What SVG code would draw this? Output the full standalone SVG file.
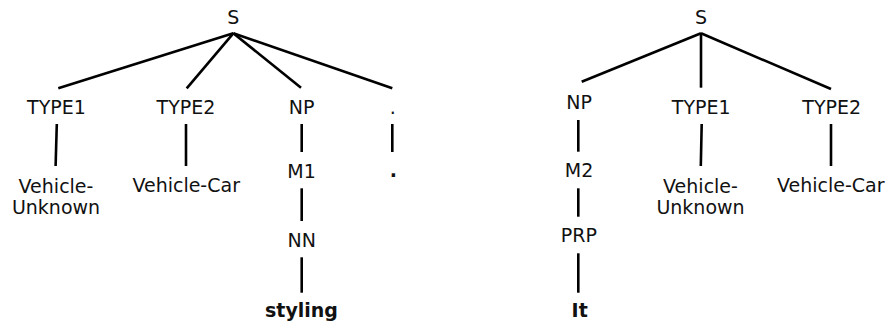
<svg xmlns="http://www.w3.org/2000/svg" width="891" height="324" viewBox="0 0 891 324">
  <style>
    text { font-family: "DejaVu Sans", Verdana, sans-serif; font-size: 19px; fill: #111; text-anchor: middle; }
    text.word { font-weight: bold; }
    #connectors line { stroke: #000; stroke-width: 2.6; stroke-linecap: butt; }
  </style>
  <rect width="891" height="324" fill="#fff"/>

  <g id="connectors">
    <!-- left tree -->
    <line x1="233.3" y1="33.3" x2="58.3" y2="88.3"/>
    <line x1="233.3" y1="33.3" x2="186.7" y2="88.3"/>
    <line x1="233.3" y1="33.3" x2="301" y2="87.7"/>
    <line x1="233.3" y1="33.3" x2="392.3" y2="88.3"/>
    <line x1="56.8" y1="124" x2="55.6" y2="166"/>
    <line x1="186" y1="124" x2="186" y2="166"/>
    <line x1="301.7" y1="124" x2="301.7" y2="152"/>
    <line x1="392.3" y1="124" x2="392.3" y2="152"/>
    <line x1="301.7" y1="188.3" x2="301.7" y2="221"/>
    <line x1="301.7" y1="257.3" x2="301.7" y2="292.7"/>
    <!-- right tree -->
    <line x1="701" y1="33.3" x2="581.7" y2="81.7"/>
    <line x1="701" y1="33.3" x2="701" y2="87.7"/>
    <line x1="701" y1="33.3" x2="831" y2="89"/>
    <line x1="578.3" y1="120" x2="578.3" y2="151.7"/>
    <line x1="701.7" y1="124" x2="700.8" y2="166"/>
    <line x1="831" y1="124" x2="831" y2="166"/>
    <line x1="578.3" y1="188.3" x2="578.3" y2="216.7"/>
    <line x1="578.3" y1="253.3" x2="578.3" y2="292.7"/>
  </g>

  <!-- left tree nodes -->
  <g id="s-left"><text x="233.3" y="23.5">S</text></g>
  <g id="type1-left"><text x="56.5" y="114">TYPE1</text></g>
  <g id="type2-left"><text x="186" y="114">TYPE2</text></g>
  <g id="np-left"><text x="301.7" y="114">NP</text></g>
  <g id="punct-tag"><text x="392.7" y="113.5">.</text></g>
  <g id="vehicle-unknown-left"><text x="56" y="193.3">Vehicle-</text><text x="56" y="214.3">Unknown</text></g>
  <g id="vehicle-car-left"><text x="186.2" y="192.3">Vehicle-Car</text></g>
  <g id="m1"><text x="301.6" y="178.3">M1</text></g>
  <g id="punct-word"><text class="word" x="393.3" y="177.3">.</text></g>
  <g id="nn"><text x="301.7" y="246.7">NN</text></g>
  <g id="styling"><text class="word" x="301.5" y="316.5">styling</text></g>

  <!-- right tree nodes -->
  <g id="s-right"><text x="701" y="23.5">S</text></g>
  <g id="np-right"><text x="579.2" y="109">NP</text></g>
  <g id="type1-right"><text x="701.2" y="114">TYPE1</text></g>
  <g id="type2-right"><text x="831.7" y="114">TYPE2</text></g>
  <g id="m2"><text x="579" y="177.3">M2</text></g>
  <g id="prp"><text x="578.8" y="241.7">PRP</text></g>
  <g id="it"><text class="word" x="579.7" y="316.5">It</text></g>
  <g id="vehicle-unknown-right"><text x="700.5" y="193.3">Vehicle-</text><text x="700.5" y="214.3">Unknown</text></g>
  <g id="vehicle-car-right"><text x="830.8" y="192.3">Vehicle-Car</text></g>
</svg>
